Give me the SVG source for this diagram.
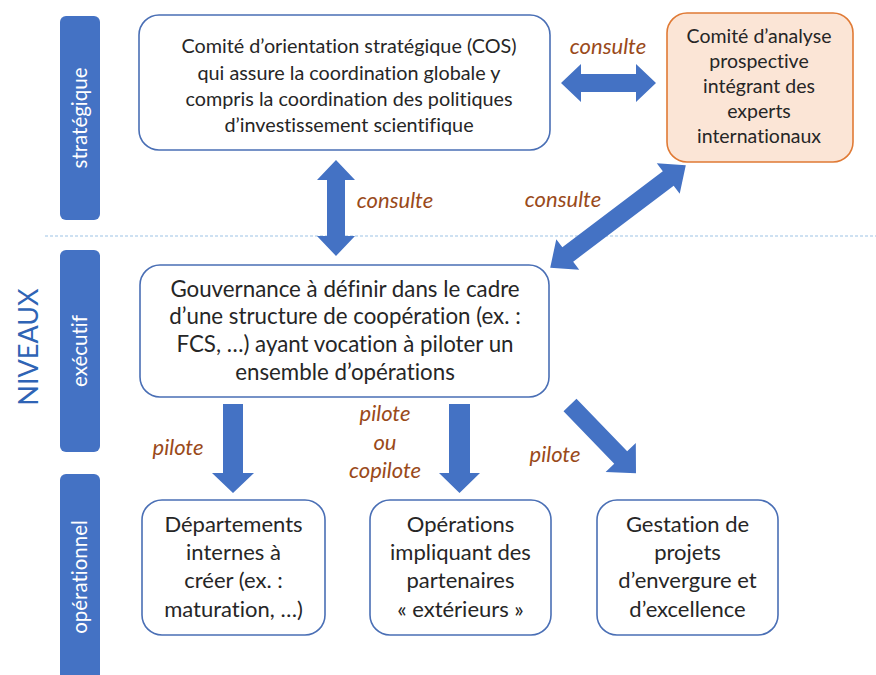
<svg xmlns="http://www.w3.org/2000/svg" width="876" height="675" viewBox="0 0 876 675">
<style>
text{font-variant-ligatures:none;font-feature-settings:"liga" 0,"dlig" 0}
.bar{fill:#4472C4}
.bartxt{fill:#fff;font-family:Lato,"Liberation Sans",sans-serif;font-size:20.5px;text-anchor:middle}
.box{fill:#fff;stroke:#4A6FB5;stroke-width:1.6}
.obox{fill:#FBE5D6;stroke:#E07A35;stroke-width:1.6}
.t{fill:#262626;font-family:Lato,"Liberation Sans",sans-serif;text-anchor:middle}
.lbl{fill:#9A4A1A;font-family:Lato,"Liberation Sans",sans-serif;font-style:italic;font-size:22px;text-anchor:middle}
.arr{fill:#4472C4}
</style>
<rect width="876" height="675" fill="#fff"/>
<g id="axis">
<text x="0" y="0" transform="translate(38,347) rotate(-90)" style="fill:#2F64B5;font-family:Lato,'Liberation Sans',sans-serif;font-size:27px;text-anchor:middle">NIVEAUX</text>
<line x1="45" y1="236" x2="876" y2="236" stroke="#9DC3E6" stroke-width="1.2" stroke-dasharray="3 2"/>
</g>
<g id="lvl-strategique"><rect class="bar" x="60" y="16" width="40" height="204" rx="6"/><text class="bartxt" transform="translate(87,118) rotate(-90)">stratégique</text></g>
<g id="lvl-executif"><rect class="bar" x="60" y="250" width="40" height="202" rx="6"/><text class="bartxt" transform="translate(87,351) rotate(-90)">exécutif</text></g>
<g id="lvl-operationnel"><rect class="bar" x="60" y="474" width="40" height="215" rx="6"/><text class="bartxt" transform="translate(87,577) rotate(-90)">opérationnel</text></g>

<g id="cos">
<rect class="box" x="139" y="15" width="411" height="135" rx="20"/>
<text class="t" style="font-size:19.8px"><tspan x="349" y="53">Comité d’orientation stratégique (COS)</tspan><tspan x="349" y="80">qui assure la coordination globale y</tspan><tspan x="349" y="106">compris la coordination des politiques</tspan><tspan x="349" y="132">d’investissement scientifique</tspan></text>
</g>
<g id="comite-analyse">
<rect class="obox" x="667" y="13" width="186" height="149" rx="20"/>
<text class="t" style="font-size:19.5px"><tspan x="759" y="43">Comité d’analyse</tspan><tspan x="759" y="68">prospective</tspan><tspan x="759" y="93">intégrant des</tspan><tspan x="759" y="118">experts</tspan><tspan x="759" y="143">internationaux</tspan></text>
</g>
<g id="gouvernance">
<rect class="box" x="140" y="265" width="409" height="132" rx="20"/>
<text class="t" style="font-size:22.3px"><tspan x="345" y="297">Gouvernance à définir dans le cadre</tspan><tspan x="345" y="324">d’une structure de coopération (ex. :</tspan><tspan x="345" y="352">FCS, …) ayant vocation à piloter un</tspan><tspan x="345" y="380">ensemble d’opérations</tspan></text>
</g>
<g id="departements">
<rect class="box" x="142" y="500" width="183" height="135" rx="20"/>
<text class="t" style="font-size:22px"><tspan x="233.5" y="532">Départements</tspan><tspan x="233.5" y="560">internes à</tspan><tspan x="233.5" y="588">créer (ex. :</tspan><tspan x="233.5" y="617">maturation, …)</tspan></text>
</g>
<g id="operations">
<rect class="box" x="370" y="500" width="181" height="135" rx="20"/>
<text class="t" style="font-size:22px"><tspan x="460.5" y="532">Opérations</tspan><tspan x="460.5" y="560">impliquant des</tspan><tspan x="460.5" y="588">partenaires</tspan><tspan x="460.5" y="617">« extérieurs »</tspan></text>
</g>
<g id="gestation">
<rect class="box" x="597" y="500" width="181" height="135" rx="20"/>
<text class="t" style="font-size:22px"><tspan x="687.5" y="532">Gestation de</tspan><tspan x="687.5" y="560">projets</tspan><tspan x="687.5" y="588">d’envergure et</tspan><tspan x="687.5" y="617">d’excellence</tspan></text>
</g>

<g id="connectors">
<polygon class="arr" points="561,83 581,64 581,74 636,74 636,64 656,83 636,102 636,92 581,92 581,102"/>
<text class="lbl" x="608" y="54">consulte</text>
<polygon class="arr" points="336,160 355,180 345,180 345,236 355,236 336,256 317,236 327,236 327,180 317,180"/>
<text class="lbl" x="395" y="208">consulte</text>
<polygon class="arr" transform="translate(618,216.5) rotate(-37.1)" points="-85,0 -63,-19 -63,-9 63,-9 63,-19 85,0 63,19 63,9 -63,9 -63,19"/>
<text class="lbl" x="563" y="207">consulte</text>
<polygon class="arr" points="223,404 243,404 243,473 254,473 233,493 212,473 223,473"/>
<text class="lbl" x="178" y="455">pilote</text>
<polygon class="arr" points="449,404 470,404 470,473 480,473 459.5,493 439,473 449,473"/>
<text class="lbl"><tspan x="385" y="421">pilote</tspan><tspan x="385" y="450">ou</tspan><tspan x="385" y="478">copilote</tspan></text>
<polygon class="arr" transform="translate(570,405) rotate(46)" points="0,-9 73,-9 73,-21 95,0 73,21 73,9 0,9"/>
<text class="lbl" x="555" y="462">pilote</text>
</g>
</svg>
